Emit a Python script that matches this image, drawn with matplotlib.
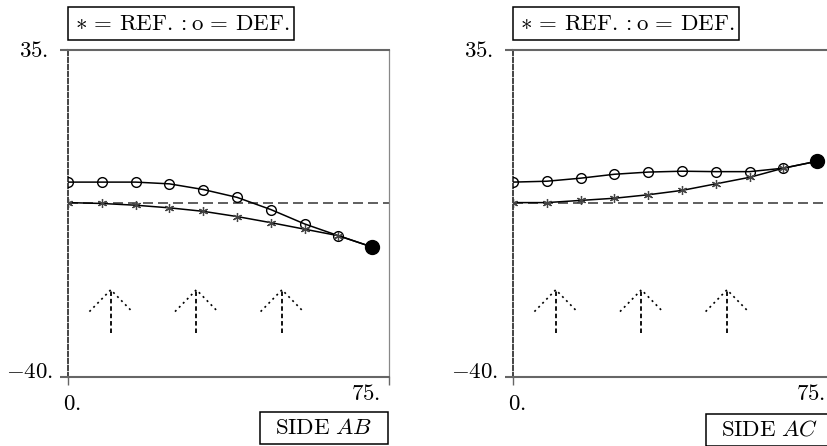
import numpy as np
import matplotlib
matplotlib.use("Agg")
import matplotlib.pyplot as plt
from matplotlib.patches import Rectangle

plt.rcParams['mathtext.fontset'] = 'cm'
plt.rcParams['font.family'] = 'serif'

# data
x_pos = [0, 7.9, 15.8, 23.7, 31.6, 39.5, 47.4, 55.3, 63.2, 71.1]
ab_def = [4.7, 4.7, 4.7, 4.3, 3.0, 1.2, -1.6, -4.9, -7.6, -10.2]
ab_ref = [0, -0.2, -0.6, -1.2, -2.0, -3.2, -4.6, -6.1, -7.6, -10.2]
ac_def = [4.7, 4.9, 5.6, 6.5, 7.0, 7.2, 7.1, 7.1, 7.9, 9.5]
ac_ref = [0, 0, 0.5, 1.0, 1.8, 2.8, 4.3, 5.8, 7.9, 9.5]
arrow_x = [10, 30, 50]
side_labels = [r'$\mathrm{SIDE}\ AB$', r'$\mathrm{SIDE}\ AC$']
title = r'$\ast\,=\,\mathrm{REF.}:\mathrm{o}\,=\,\mathrm{DEF.}$'

W, H = 827, 446
fig = plt.figure(figsize=(W / 100, H / 100), dpi=100)


def fbox(x0, y0, x1, y1):
    # pixel box (from top-left) -> figure fraction rect
    return [x0 / W, 1 - y1 / H, (x1 - x0) / W, (y1 - y0) / H]


panels = [
    dict(left=68, ref=ab_ref, dfm=ab_def, side=side_labels[0], sbox=(260, 412, 388, 444)),
    dict(left=513, ref=ac_ref, dfm=ac_def, side=side_labels[1], sbox=(706, 414, 834, 446)),
]

for p in panels:
    ax = fig.add_axes(fbox(p['left'], 50, p['left'] + 321, 377))
    ax.set_xlim(0, 75)
    ax.set_ylim(-40, 35)

    ax.spines['left'].set_linestyle((0, (2.2, 1.4)))
    ax.spines['left'].set_color('#444444')
    ax.spines['left'].set_linewidth(1.4)
    for s in ['top', 'bottom']:
        ax.spines[s].set_color('#666666')
        ax.spines[s].set_linewidth(1.5)
    ax.spines['right'].set_color('#888888')
    ax.spines['right'].set_linewidth(0.9)

    ax.set_xticks([0, 75])
    ax.set_yticks([-40, 35])
    ax.set_xticklabels([])
    ax.set_yticklabels([])
    ax.tick_params(axis='x', direction='out', length=6, width=1.0, colors='#666666')
    ax.tick_params(axis='y', direction='out', length=6, width=1.5, colors='#666666')

    ax.axhline(0, color='#444444', lw=1.2, ls=(0, (6, 3)), zorder=1)

    ax.plot(x_pos, p['dfm'], color='black', lw=1.1, marker='o', ms=7,
            mfc='none', mec='black', mew=1.0, zorder=3)
    ax.plot(x_pos, p['ref'], color='black', lw=1.1, zorder=3)
    ax.plot(x_pos, p['ref'], ls='none', marker=(6, 2, 0), ms=6.5, mec='#444444',
            mew=0.9, zorder=4)
    ax.plot(x_pos[-1], p['dfm'][-1], 'o', color='black', ms=10, zorder=5, clip_on=False)

    for xa in arrow_x:
        ax.plot([xa, xa], [-30, -20], color='black', lw=1.3, ls=(0, (2.5, 1.6)))
        ax.plot([xa - 5, xa, xa + 5], [-25, -20, -25], color='black', lw=1.2,
                ls=(0, (1.2, 2.2)))

    ax.annotate(r'$35.$', (0, 1), xycoords='axes fraction', xytext=(-20, -1),
                textcoords='offset pixels', ha='right', va='center', fontsize=16.5)
    ax.annotate(r'$-40.$', (0, 0), xycoords='axes fraction', xytext=(-15, 5),
                textcoords='offset pixels', ha='right', va='center', fontsize=16.5)
    ax.annotate(r'$0.$', (0, 0), xycoords='axes fraction', xytext=(4, -16),
                textcoords='offset pixels', ha='center', va='top', fontsize=16.5)
    ax.annotate(r'$75.$', (1, 0), xycoords='axes fraction', xytext=(-9, -6),
                textcoords='offset pixels', ha='right', va='top', fontsize=16.5)

    # title box
    tx0 = p['left']
    r = fbox(tx0, 7, tx0 + 226, 40)
    fig.add_artist(Rectangle((r[0], r[1]), r[2], r[3], transform=fig.transFigure,
                             fill=False, lw=1.1, ec='black'))
    fig.text(r[0] + r[2] / 2 + 1.5 / W, r[1] + r[3] / 2, title, ha='center', va='center',
             fontsize=16.5)

    # side box
    r = fbox(*p['sbox'])
    fig.add_artist(Rectangle((r[0], r[1]), r[2], r[3], transform=fig.transFigure,
                             fill=False, lw=1.1, ec='black'))
    fig.text(r[0] + r[2] / 2, r[1] + r[3] / 2, p['side'], ha='center', va='center',
             fontsize=16.5)

fig.savefig('out.png', dpi=100)
